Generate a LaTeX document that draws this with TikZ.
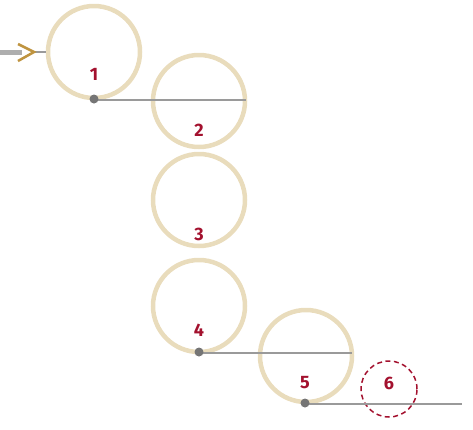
\documentclass[tikz,border=0pt]{standalone}
\usepackage{fontspec}
\setmainfont{Fira Sans}
\definecolor{ring}{HTML}{E9DCBC}
\definecolor{lab}{HTML}{A3112E}
\definecolor{ln}{HTML}{9A9A9A}
\definecolor{dotc}{HTML}{757575}
\definecolor{gold}{HTML}{BF9440}
\begin{document}
\begin{tikzpicture}[x=1pt,y=-1pt,
  ringc/.style={circle,draw=ring,line width=4.5pt,minimum size=92pt,inner sep=0pt},
  ghost/.style={circle,draw=lab,line width=1.5pt,dash pattern=on 5pt off 3.5pt,minimum size=56pt,inner sep=0pt},
  num/.style={text=lab,font=\fontsize{18}{18}\selectfont\bfseries},
  conn/.style={draw=ln,line width=1.2pt},
  pt/.style={circle,fill=dotc,minimum size=9pt,inner sep=0pt}]
\useasboundingbox (0,0) rectangle (473,429);
\node[ringc] (c1) at (94,52) {};
\node[ringc] (c2) at (199,101) {};
\node[ringc] (c3) at (199,200) {};
\node[ringc] (c4) at (199,306) {};
\node[ringc] (c5) at (306,356) {};
\node[ghost] (c6) at (389,389) {};
\coordinate (d1) at (94,99);
\coordinate (d4) at (199,352);
\coordinate (d5) at (305,403);
\coordinate (e1) at (246,100);
\coordinate (e4) at (352,353);
\coordinate (e5) at (462,404);
\coordinate (in0) at (0,52);
\coordinate (in1) at (22,52);
\coordinate (in2) at (34,52);
\draw[conn] (d1) ++(0,1) -- (e1);
\draw[conn] (d4) ++(0,1) -- (e4);
\draw[conn] (d5) ++(0,1) -- (e5);
\node[pt] (p1) at (d1) {};
\node[pt] (p4) at (d4) {};
\node[pt] (p5) at (d5) {};
\draw[line width=5pt,draw=ln!80] (in0) -- (in1);
\draw[conn] (in2) -- (c1.west);
\draw[gold,line width=2.5pt] (18,44) -- (34,52) -- (18,61);
\node[num] (n1) at (94,74) {1};
\node[num] (n2) at (199,130) {2};
\node[num] (n3) at (199,234) {3};
\node[num] (n4) at (199,330) {4};
\node[num] (n5) at (305,383) {5};
\node[num] (n6) at (389,383) {6};
\end{tikzpicture}
\end{document}
